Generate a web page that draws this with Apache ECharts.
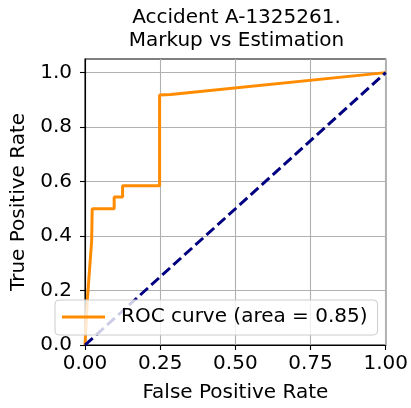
<!DOCTYPE html>
<html>
<head>
<meta charset="utf-8">
<script src="https://cdn.jsdelivr.net/npm/echarts@6/dist/echarts.min.js"></script>
<style>
  html, body { margin: 0; padding: 0; background: #fff; }
  #chart { width: 411px; height: 408px; }
</style>
</head>
<body>
<div id="chart"></div>
<script>
// ROC points
const fpr = [0, 0.008, 0.022, 0.024, 0.097, 0.097, 0.125, 0.125, 0.248, 0.248, 0.285, 1]
const tpr = [0, 0.17, 0.38, 0.5, 0.5, 0.543, 0.543, 0.585, 0.585, 0.918, 0.92, 1]
const chanceX = [0, 1]
const chanceY = [0, 1]
const xTicks = [0, 0.25, 0.5, 0.75, 1]
const yTicks = [0, 0.2, 0.4, 0.6, 0.8, 1.0]
const rocName = 'ROC curve (area = 0.85)'

const font = 'DejaVu Sans'
const chart = echarts.init(document.getElementById('chart'))

const option = {
  animation: false,
  title: {
    text: 'Accident A-1325261.\nMarkup vs Estimation',
    left: 236.5,
    top: 6,
    padding: 0,
    textAlign: 'center',
    textStyle: { fontFamily: font, fontSize: 20, fontWeight: 'normal', color: '#000', lineHeight: 23 }
  },
  grid: {
    left: 85, right: 23, top: 59, bottom: 62,
    show: true, borderColor: '#000', borderWidth: 1.1, backgroundColor: 'transparent'
  },
  legend: {
    data: [{ name: rocName, icon: 'rect', itemStyle: { color: '#ff8c00' } }],
    left: 55,
    top: 300,
    orient: 'vertical',
    padding: [7, 10, 8, 7],
    itemWidth: 43,
    itemHeight: 3,
    backgroundColor: 'rgba(255,255,255,0.8)',
    borderColor: '#cccccc',
    borderWidth: 1,
    borderRadius: 4,
    textStyle: { fontFamily: font, fontSize: 20, color: '#000', padding: [0, 0, 0, 11] }
  },
  xAxis: {
    type: 'value',
    min: 0, max: 1, interval: 0.25,
    name: 'False Positive Rate',
    nameLocation: 'middle',
    nameGap: 38,
    nameTextStyle: { fontFamily: font, fontSize: 20, color: '#000' },
    axisLine: { show: true, onZero: false, lineStyle: { color: '#000', width: 1.1 } },
    axisTick: { show: true, inside: false, length: 5, lineStyle: { color: '#000', width: 1.1 } },
    axisLabel: {
      fontFamily: font, fontSize: 20, color: '#000', margin: 9,
      customValues: xTicks,
      formatter: v => v.toFixed(2)
    },
    splitLine: { show: true, lineStyle: { color: '#b0b0b0', width: 1.1 } }
  },
  yAxis: {
    type: 'value',
    min: 0, max: 1.05, interval: 0.2,
    name: 'True Positive Rate',
    nameLocation: 'middle',
    nameGap: 56,
    nameTextStyle: { fontFamily: font, fontSize: 20, color: '#000' },
    axisLine: { show: true, onZero: false, lineStyle: { color: '#000', width: 1.1 } },
    axisTick: { show: true, inside: false, length: 5, customValues: yTicks, lineStyle: { color: '#000', width: 1.1 } },
    axisLabel: {
      fontFamily: font, fontSize: 20, color: '#000', margin: 13,
      customValues: yTicks,
      formatter: v => v.toFixed(1)
    },
    splitLine: { show: true, lineStyle: { color: '#b0b0b0', width: 1.1 } }
  },
  series: [
    {
      name: rocName,
      type: 'line',
      data: fpr.map((x, i) => [x, tpr[i]]),
      symbol: 'none',
      color: '#ff8c00',
      lineStyle: { color: '#ff8c00', width: 3 },
      z: 3
    },
    {
      name: 'chance',
      type: 'line',
      data: chanceX.map((x, i) => [x, chanceY[i]]),
      symbol: 'none',
      color: '#000080',
      lineStyle: { color: '#000080', width: 3, type: [10.4, 4.5] },
      z: 3
    }
  ]
}

chart.setOption(option)
</script>
</body>
</html>
